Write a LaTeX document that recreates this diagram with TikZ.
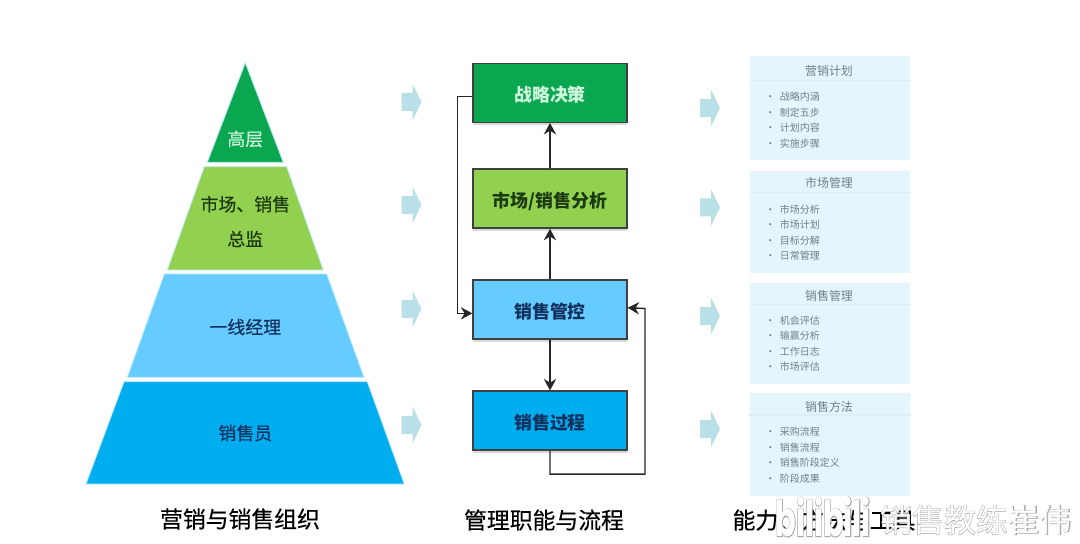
\documentclass[tikz,border=0pt]{standalone}
\usepackage{fontspec}
\setmainfont{Noto Sans CJK SC}
\newfontfamily\ttlfont[FakeBold=0.4]{Noto Sans CJK SC}
\newfontfamily\wmfont[FakeBold=2.5]{Noto Sans CJK SC}
\newfontfamily\logofont{Poppins}
\newfontfamily\logoback[FakeBold=3]{Poppins}
\usetikzlibrary{arrows.meta,positioning,shadows}
\definecolor{gTop}{HTML}{0BA650}
\definecolor{gMid}{HTML}{92D050}
\definecolor{bMid}{HTML}{66CCFF}
\definecolor{bLow}{HTML}{00AEEF}
\definecolor{cardbg}{HTML}{E4F5FB}
\definecolor{cardln}{HTML}{DCEFF6}
\definecolor{cardtxt}{HTML}{6F8086}
\definecolor{arrbg}{HTML}{B9DFE7}
\definecolor{mint}{HTML}{CFF7DD}
\definecolor{dgreen}{HTML}{1C3A12}
\definecolor{navy}{HTML}{12305E}
\newcommand{\fs}[2]{\fontsize{#1}{#2}\selectfont}

\begin{document}
\begin{tikzpicture}[
  x=0.02cm, y=-0.02cm, >={Stealth[length=6.5pt,width=7pt]},
  lay/.style={fill=#1, draw=cyan!25, line width=0.5pt},
  lbl/.style={text=#1, align=center, font=\ttlfont\fs{10.2}{10.2}},
  B/.style={draw=black!75, line width=0.8pt, fill=#1, minimum width=3.08cm,
            minimum height=1.18cm, inner sep=0pt, font=\fs{10.2}{12}\bfseries,
            text height=12pt, text depth=2pt,
            drop shadow={shadow xshift=0pt,shadow yshift=-1.5pt,opacity=0.3}},
  link/.style={->, line width=0.8pt, draw=black!85},
  card/.style={fill=cardbg, minimum width=3.22cm, inner sep=0pt},
  cardhd/.style={text=cardtxt, font=\fs{6.8}{8}, inner sep=0pt},
  cardit/.style={text=cardtxt, align=left, font=\fs{5.7}{8.85}, inner sep=0pt, anchor=west},
  ttl/.style={font=\ttlfont\fs{13}{15}, inner sep=0pt},
  wmk/.style={font=\wmfont\fs{18.2}{20}, text=gray!70, inner sep=0pt},
  wmt/.style={font=\fs{18.2}{20}, text=white, inner sep=0pt},
]
\useasboundingbox (0,0) rectangle (1080,544);

% pyramid
\path[lay=gTop] (245.3,62.7) -- (283.3,162.3) -- (207.3,162.3) -- cycle;
\path[lay=gMid] (204.3,166.7) -- (286.7,166.7) -- (323.3,270) -- (167.3,270) -- cycle;
\path[lay=bMid] (164.3,274) -- (326.7,274) -- (364,377.3) -- (127.3,377.3) -- cycle;
\path[lay=bLow] (124,381.7) -- (367.3,381.7) -- (404.3,484) -- (86,484) -- cycle;
\node[lbl=mint] (top) at (245.3,139) {高层};
\node[lbl=dgreen] (dir) at (245.3,221.5) {市场、销售\\[9.6pt]总监};
\node[lbl=navy] (mgr) at (245.3,327) {一线经理};
\node[lbl=navy] (rep) at (245.3,433) {销售员};

% block arrows between columns
\foreach \xx/\yy in {401.5/102,401.5/205,401.5/309,401.5/425,700/108,700/207.5,700/316,700/429}
  \fill[arrbg] (\xx,\yy-9) -- ++(11,0) -- ++(0,-9.5) -- ++(9,18.5) -- ++(-9,18.5)
    -- ++(0,-9.5) -- ++(-11,0) -- cycle;

% process column
\node[B=gTop, text=mint] (dec) at (550,92.8) {战略决策};
\node[B=gMid, text=dgreen] (ana) at (550,198.6) {市场/销售分析};
\node[B=bMid, text=navy] (ctl) at (550,309.5) {销售管控};
\node[B=bLow, text=navy] (prc) at (550,420.6) {销售过程};

\draw[link] (ana) -- (dec);
\draw[link] (ctl) -- (ana);
\draw[link] (ctl) -- (prc);
\draw[link] ([yshift=-2.2pt]dec.west) -- ++(-15,0) |- ([yshift=-2.2pt]ctl.west);
\draw[link] (prc.south) -- ++(0,23.3) -| ++(95,-165.6) -- ([yshift=1pt]ctl.east);

% cards on the right
\foreach \nm/\cy/\hh/\hy/\dv/\iy/\hd/\txt in {
  p/108/2.08cm/70.7/80.7/120.3/营销计划/{•\hspace{2.5pt}战略内涵\\•\hspace{2.5pt}制定五步\\•\hspace{2.5pt}计划内容\\•\hspace{2.5pt}实施步骤},
  q/221.7/2.04cm/182.7/192.7/232.6/市场管理/{•\hspace{2.5pt}市场分析\\•\hspace{2.5pt}市场计划\\•\hspace{2.5pt}目标分解\\•\hspace{2.5pt}日常管理},
  r/333.7/2.01cm/295.7/304.3/343.8/销售管理/{•\hspace{2.5pt}机会评估\\•\hspace{2.5pt}输赢分析\\•\hspace{2.5pt}工作日志\\•\hspace{2.5pt}市场评估},
  s/444.2/2.06cm/406.7/415/455.3/销售方法/{•\hspace{2.5pt}采购流程\\•\hspace{2.5pt}销售流程\\•\hspace{2.5pt}销售阶段定义\\•\hspace{2.5pt}阶段成果}}{
  \node[card, minimum height=\hh] (card\nm) at (830,\cy) {};
  \draw[cardln, line width=0.6pt] (749,\dv) -- (911,\dv);
  \node[cardhd] (hd\nm) at (829,\hy) {\hd};
  \node[cardit] (it\nm) at (765,\iy) {\txt};
}

% column titles
\node[ttl] (t1) at (240,519) {营销与销售组织};
\node[ttl] (t2) at (544,520) {管理职能与流程};
\node[ttl] (t3) at (824,520) {能力、方法与工具};

% watermark
\node[wmk, font=\logoback\bfseries\fs{28}{28}] (wb) at (823,517) {\scalebox{0.62}[1]{bilibili}};
\node[wmt, font=\logofont\bfseries\fs{28}{28}] (wc) at (823,517) {\scalebox{0.62}[1]{bilibili}};
\node[wmk] (wa) at (976,520) {销售教练崔伟};
\node[wmt] (wd) at (976,520) {销售教练崔伟};
\end{tikzpicture}
\end{document}
